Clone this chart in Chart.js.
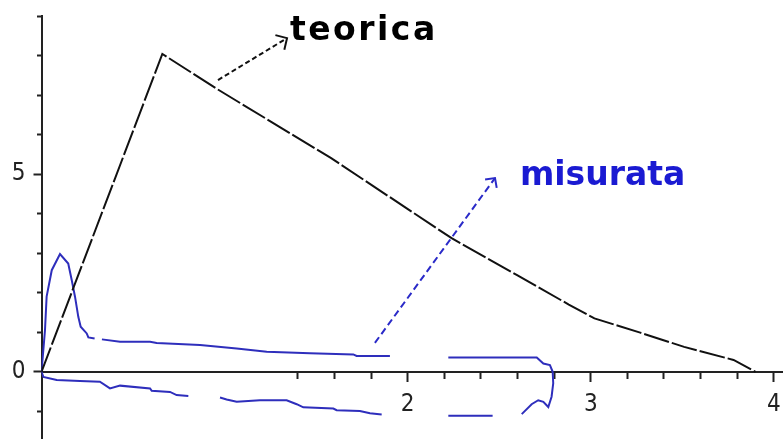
<!DOCTYPE html>
<html>
<head>
<meta charset="utf-8">
<script src="https://cdn.jsdelivr.net/npm/chart.js@4/dist/chart.umd.min.js"></script>
<style>
  html, body { margin: 0; padding: 0; background: #fff; }
  #grafico { display: block; }
</style>
</head>
<body>
<canvas id="grafico" width="783" height="439"></canvas>
<script>
// curva teorica (nera)
var teoricaX = [0, 0.66, 0.96, 1.58, 2.24, 2.60, 2.88, 3.02, 3.27, 3.51, 3.78, 3.90];
var teoricaY = [0, 8.04, 7.15, 5.41, 3.38, 2.44, 1.70, 1.35, 0.99, 0.63, 0.30, 0];

// curva misurata (blu), null = tratto mancante
var misurataX = [0, 0.019, 0.028, 0.056, 0.101, 0.146, 0.165, 0.183, 0.201, 0.214, 0.247, 0.256, 0.290,
                 0.300, 0.330, 0.429, 0.593, 0.629, 0.866, 1.066, 1.230, 1.466, 1.703, 1.721, 1.903,
                 2.05,
                 2.222, 2.705, 2.741, 2.777, 2.792, 2.795, 2.786, 2.768, 2.741, 2.713, 2.677, 2.623,
                 2.55,
                 2.464, 2.222,
                 2.05,
                 1.858, 1.794, 1.739, 1.612, 1.594, 1.430, 1.394, 1.339, 1.193, 1.066, 1.011, 0.975,
                 0.90,
                 0.802, 0.738, 0.702, 0.602, 0.593, 0.429, 0.374, 0.319, 0.210, 0.083, 0.010, 0];
var misurataY = [0, 1.05, 1.90, 2.57, 2.98, 2.74, 2.32, 1.90, 1.39, 1.14, 0.97, 0.87, 0.84,
                 null, 0.82, 0.76, 0.76, 0.73, 0.675, 0.59, 0.51, 0.47, 0.44, 0.40, 0.40,
                 null,
                 0.36, 0.36, 0.21, 0.17, 0.00, -0.29, -0.63, -0.89, -0.76, -0.72, -0.82, -1.07,
                 null,
                 -1.11, -1.11,
                 null,
                 -1.08, -1.05, -0.99, -0.97, -0.93, -0.90, -0.82, -0.72, -0.72, -0.76, -0.70, -0.65,
                 null,
                 -0.61, -0.59, -0.51, -0.48, -0.42, -0.35, -0.42, -0.25, -0.235, -0.21, -0.13, 0];

// tacche degli assi
var xTacche = [1.4, 1.6, 1.8, 2.2, 2.4, 2.6, 2.8, 3.2, 3.4, 3.6, 3.8];
var xEtichette = [2, 3, 4];
var yTacche = [-1, 1, 2, 3, 4, 6, 7, 8, 9];
var yEtichette = [0, 5];

var xMin = 0, xMax = 4.05, yMin = -1.7, yMax = 9;

function punti(xs, ys) {
    return xs.map(function(x, i) { return {x: x, y: ys[i]}; });
}

function soloTicks(valori) {
    return function(s) {
        s.ticks = valori.map(function(v) { return {value: v}; });
    };
}

function senzaSpazio(s) {
    if (s.isHorizontal()) { s.height = 0; } else { s.width = 0; }
    s.paddingLeft = 0; s.paddingRight = 0; s.paddingTop = 0; s.paddingBottom = 0;
}

var fontTick = {family: "'Liberation Sans Narrow', 'DejaVu Sans Condensed', sans-serif", size: 24};

// frecce e scritte
var frecce = [
    {da: [0.964, 7.38], a: [1.341, 8.44], colore: '#111', dash: [5, 3], punta: 12},
    {da: [1.821, 0.73], a: [2.477, 4.90], colore: '#2a2ac8', dash: [7, 4], punta: 10}
];
var scritte = [
    {testo: 'teorica', pos: [1.357, 8.39], colore: '#000', spazio: '2.5px'},
    {testo: 'misurata', pos: [2.613, 4.72], colore: '#1a1ad2', spazio: '0px'}
];

var annotazioni = {
    id: 'annotazioni',
    afterDatasetsDraw: function(chart) {
        var ctx = chart.ctx;
        var sx = chart.scales.x, sy = chart.scales.y;
        ctx.save();
        frecce.forEach(function(f) {
            var x1 = sx.getPixelForValue(f.da[0]), y1 = sy.getPixelForValue(f.da[1]);
            var x2 = sx.getPixelForValue(f.a[0]), y2 = sy.getPixelForValue(f.a[1]);
            ctx.strokeStyle = f.colore;
            ctx.lineWidth = 2;
            ctx.setLineDash(f.dash);
            ctx.beginPath();
            ctx.moveTo(x1, y1);
            ctx.lineTo(x2, y2);
            ctx.stroke();
            // punta aperta
            var ang = Math.atan2(y2 - y1, x2 - x1);
            ctx.setLineDash([]);
            ctx.beginPath();
            ctx.moveTo(x2 - f.punta * Math.cos(ang - 0.8), y2 - f.punta * Math.sin(ang - 0.8));
            ctx.lineTo(x2, y2);
            ctx.lineTo(x2 - f.punta * Math.cos(ang + 0.8), y2 - f.punta * Math.sin(ang + 0.8));
            ctx.stroke();
        });
        ctx.font = "bold 33px 'DejaVu Sans', sans-serif";
        ctx.textBaseline = 'alphabetic';
        ctx.textAlign = 'left';
        scritte.forEach(function(t) {
            ctx.fillStyle = t.colore;
            ctx.letterSpacing = t.spazio;
            ctx.fillText(t.testo, sx.getPixelForValue(t.pos[0]), sy.getPixelForValue(t.pos[1]));
        });
        ctx.restore();
    }
};

var grafico = new Chart(document.getElementById('grafico'), {
    type: 'line',
    data: {
        datasets: [{
            label: 'teorica',
            data: punti(teoricaX, teoricaY),
            borderColor: '#111',
            borderWidth: 2,
            borderDash: [26, 3],
            pointRadius: 0,
            tension: 0
        }, {
            label: 'misurata',
            data: punti(misurataX, misurataY),
            borderColor: '#2e2ebc',
            borderWidth: 2,
            pointRadius: 0,
            tension: 0,
            spanGaps: false
        }]
    },
    options: {
        responsive: false,
        animation: false,
        layout: {padding: {left: 0, top: 16, right: 0, bottom: 0}},
        plugins: {legend: {display: false}, tooltip: {enabled: false}},
        scales: {
            x: {
                type: 'linear', min: xMin, max: xMax, position: {y: 0},
                afterBuildTicks: soloTicks(xTacche),
                afterFit: senzaSpazio,
                ticks: {display: false},
                grid: {drawOnChartArea: false, tickLength: 6, tickWidth: 2, tickColor: '#222'},
                border: {color: '#222', width: 2}
            },
            xMaggiore: {
                type: 'linear', axis: 'x', min: xMin, max: xMax, position: {y: 0},
                afterBuildTicks: soloTicks(xEtichette),
                afterFit: senzaSpazio,
                ticks: {color: '#222', font: fontTick, padding: 9, maxRotation: 0,
                        callback: function(v) { return String(v); }},
                grid: {drawOnChartArea: false, tickLength: 10, tickWidth: 2, tickColor: '#222'},
                border: {display: false}
            },
            y: {
                type: 'linear', min: yMin, max: yMax, position: {x: 0},
                afterBuildTicks: soloTicks(yTacche),
                afterFit: senzaSpazio,
                ticks: {display: false},
                grid: {drawOnChartArea: false, tickLength: 4, tickWidth: 2, tickColor: '#222'},
                border: {color: '#222', width: 2}
            },
            // colonna delle etichette a sinistra dell'asse
            yMaggiore: {
                type: 'linear', axis: 'y', min: yMin, max: yMax, position: 'left',
                afterBuildTicks: soloTicks(yEtichette),
                afterFit: function(s) {
                    s.width = 41.5;
                    s.paddingTop = 0; s.paddingBottom = 0;
                },
                ticks: {color: '#222', font: fontTick, padding: 8,
                        callback: function(v) { return String(v); }},
                grid: {drawOnChartArea: false, tickLength: 8, tickWidth: 2, tickColor: '#222'},
                border: {display: false}
            }
        }
    },
    plugins: [annotazioni]
});
</script>
</body>
</html>
